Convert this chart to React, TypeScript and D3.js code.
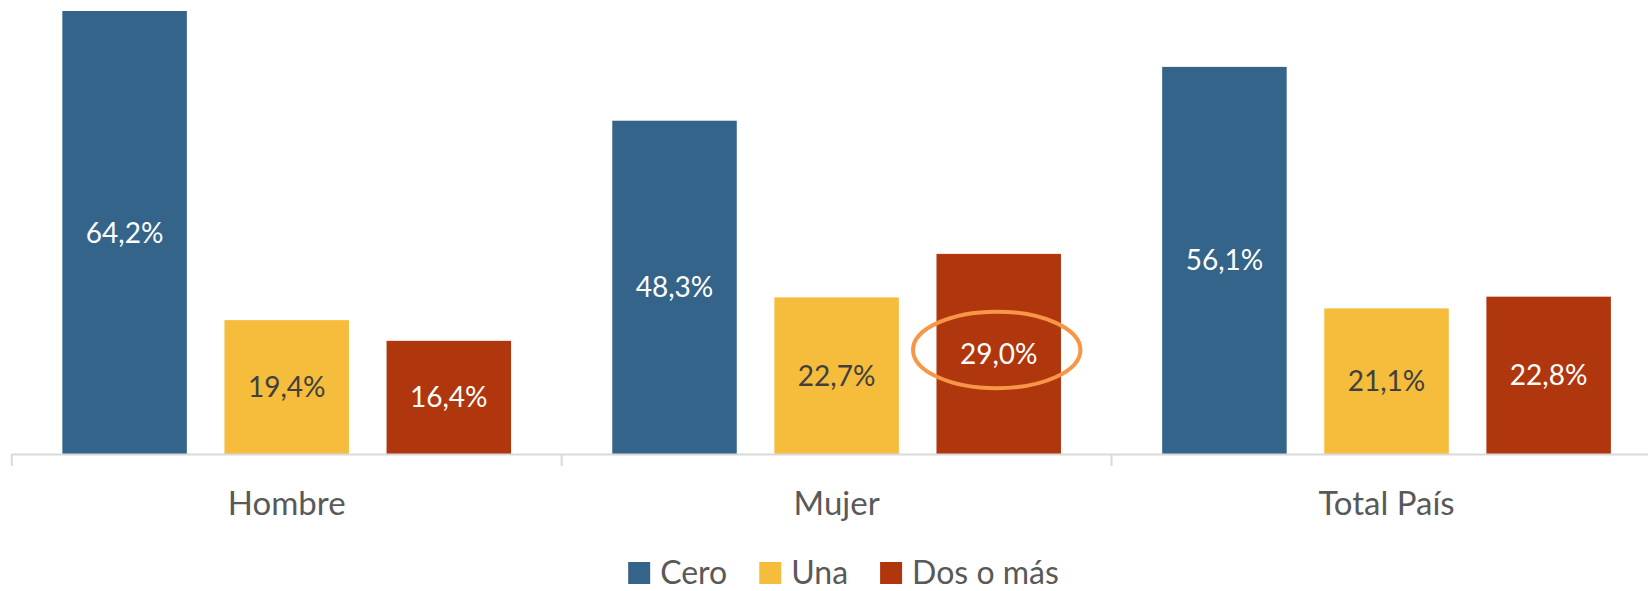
import React, { useEffect, useRef } from 'react'
import * as d3 from 'd3'

const categories = ['Hombre', 'Mujer', 'Total País']
const seriesNames = ['Cero', 'Una', 'Dos o más']
const cero = [64.2, 48.3, 56.1]
const una = [19.4, 22.7, 21.1]
const dosOMas = [16.4, 29.0, 22.8]
const seriesValues = [cero, una, dosOMas]
const colors = ['#34648A', '#F6BC3C', '#B0370D']
const labelColors = ['#FFFFFF', '#404040', '#FFFFFF']
// highlighted label: Mujer / Dos o más
const highlight = { category: 'Mujer', series: 'Dos o más' }

const WIDTH = 1648
const HEIGHT = 591
const FONT = 'Lato, "Open Sans", sans-serif'

const fmt = (v: number) => v.toFixed(1).replace('.', ',') + '%'

export default function App() {
	const ref = useRef<SVGSVGElement>(null)

	useEffect(() => {
		const svg = d3.select(ref.current)
		svg.selectAll('*').remove()

		const x0 = d3.scaleBand<string>()
			.domain(categories)
			.range([11.75, 1661.5])
		const x1 = d3.scaleBand<string>()
			.domain(seriesNames)
			.range([50.6, 499.3])
			.paddingInner(0.232)
		const y = d3.scaleLinear()
			.domain([0, 64.2])
			.range([454, 11])

		const rows = categories.map((c, ci) => ({
			category: c,
			values: seriesNames.map((s, si) => ({ series: s, si, value: seriesValues[si][ci] })),
		}))

		const groups = svg.append('g')
			.selectAll('g')
			.data(rows)
			.join('g')
			.attr('transform', d => `translate(${x0(d.category)},0)`)

		groups.selectAll('rect')
			.data(d => d.values)
			.join('rect')
			.attr('x', d => x1(d.series)!)
			.attr('y', d => y(d.value))
			.attr('width', x1.bandwidth())
			.attr('height', d => y(0) - y(d.value))
			.attr('fill', d => colors[d.si])

		groups.selectAll('text.lbl')
			.data(d => d.values)
			.join('text')
			.attr('class', 'lbl')
			.attr('x', d => x1(d.series)! + x1.bandwidth() / 2)
			.attr('y', d => (y(d.value) + y(0)) / 2 + 10)
			.attr('text-anchor', 'middle')
			.attr('font-family', FONT)
			.attr('font-size', 28)
			.attr('fill', d => labelColors[d.si])
			.text(d => fmt(d.value))

		// highlight ellipse
		const hv = seriesValues[seriesNames.indexOf(highlight.series)][categories.indexOf(highlight.category)]
		svg.append('ellipse')
			.attr('cx', x0(highlight.category)! + x1(highlight.series)! + x1.bandwidth() / 2 - 2)
			.attr('cy', (y(hv) + y(0)) / 2 - 4)
			.attr('rx', 83.7)
			.attr('ry', 38.3)
			.attr('fill', 'none')
			.attr('stroke', '#F79646')
			.attr('stroke-width', 4)

		// category axis
		const axisG = svg.append('g')
		axisG.append('line')
			.attr('x1', x0.range()[0])
			.attr('x2', WIDTH)
			.attr('y1', y(0) + 0.5)
			.attr('y2', y(0) + 0.5)
			.attr('stroke', '#D9D9D9')
			.attr('stroke-width', 2)
		const tickXs = categories.map(c => x0(c)!)
		axisG.selectAll('line.tick')
			.data(tickXs)
			.join('line')
			.attr('class', 'tick')
			.attr('x1', d => d)
			.attr('x2', d => d)
			.attr('y1', y(0))
			.attr('y2', y(0) + 12)
			.attr('stroke', '#D9D9D9')
			.attr('stroke-width', 2)
		axisG.selectAll('text')
			.data(categories)
			.join('text')
			.attr('x', d => x0(d)! + x1(seriesNames[1])! + x1.bandwidth() / 2)
			.attr('y', 515)
			.attr('text-anchor', 'middle')
			.attr('font-family', FONT)
			.attr('font-size', 33)
			.attr('fill', '#595959')
			.text(d => d)

		// legend
		const legend = svg.append('g')
		const items = legend.selectAll('g')
			.data(seriesNames)
			.join('g')
		items.append('rect')
			.attr('width', 22)
			.attr('height', 22)
			.attr('y', 562)
			.attr('fill', (d, i) => colors[i])
		items.append('text')
			.attr('x', 32)
			.attr('y', 584)
			.attr('font-family', FONT)
			.attr('font-size', 32)
			.attr('fill', '#595959')
			.text(d => d)
		let cursor = 0
		const offsets: number[] = []
		items.each(function () {
			const t = (d3.select(this).select('text').node() as SVGTextElement).getComputedTextLength()
			offsets.push(cursor)
			cursor += 32 + t + 32
		})
		const total = cursor - 32
		const start = 843.5 - total / 2
		items.attr('transform', (d, i) => `translate(${start + offsets[i]},0)`)
	}, [])

	return (
		<svg
			ref={ref}
			width={WIDTH}
			height={HEIGHT}
			style={{ position: 'absolute', left: 0, top: 0, background: '#fff' }}
		/>
	)
}
